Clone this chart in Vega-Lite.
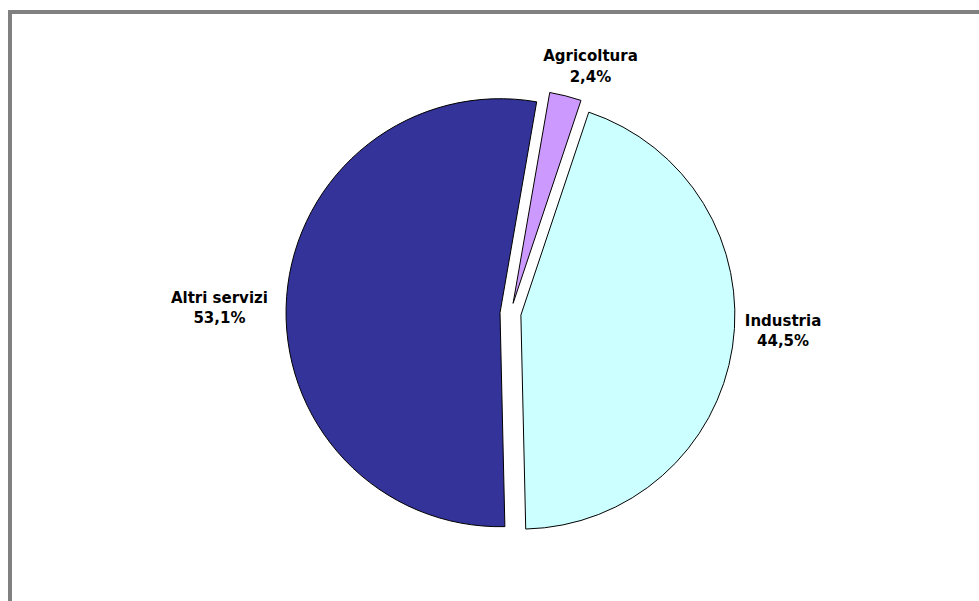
{
  "$schema": "https://vega.github.io/schema/vega-lite/v6.json",
  "width": 1001,
  "height": 603,
  "autosize": {"type": "none"},
  "padding": {"left": 10, "top": 12, "right": -32, "bottom": -14},
  "background": "white",
  "config": {
    "view": {"stroke": "#808080", "strokeWidth": 4},
    "locale": {"number": {"decimal": ",", "thousands": ".", "grouping": [3], "currency": ["€", ""]}},
    "text": {"font": "DejaVu Sans", "fontWeight": "bold", "fontSize": 15, "color": "black", "baseline": "middle", "align": "center"}
  },
  "data": {
    "values": [
      {"cat": "Agricoltura", "share": 0.024},
      {"cat": "Industria", "share": 0.445},
      {"cat": "Altri servizi", "share": 0.531}
    ]
  },
  "transform": [
    {"stack": "share", "groupby": [], "sort": [{"field": "cat", "order": "descending"}], "as": ["start", "end"]}
  ],
  "layer": [
    {
      "mark": {"type": "point", "opacity": 0},
      "encoding": {
        "x": {"field": "share", "type": "quantitative", "axis": null},
        "y": {"field": "share", "type": "quantitative", "axis": null}
      }
    },
    {
      "transform": [{"filter": "datum.cat === 'Industria'"}],
      "mark": {"type": "arc", "radius": 214, "stroke": "black", "strokeWidth": 1, "xOffset": 10.38, "yOffset": 1.59},
      "encoding": {
        "theta": {"field": "start", "type": "quantitative", "scale": {"domain": [0, 1], "range": [0.3229, 6.6061]}},
        "theta2": {"field": "end"},
        "fill": {"field": "cat", "type": "nominal", "legend": null, "scale": {"domain": ["Agricoltura", "Industria", "Altri servizi"], "range": ["#CC99FF", "#CCFFFF", "#333399"]}}
      }
    },
    {
      "transform": [{"filter": "datum.cat === 'Altri servizi'"}],
      "mark": {"type": "arc", "radius": 214, "stroke": "black", "strokeWidth": 1, "xOffset": -10.47, "yOffset": -0.81},
      "encoding": {
        "theta": {"field": "start", "type": "quantitative", "scale": {"domain": [0, 1], "range": [0.3229, 6.6061]}},
        "theta2": {"field": "end"},
        "fill": {"field": "cat", "type": "nominal", "legend": null, "scale": {"domain": ["Agricoltura", "Industria", "Altri servizi"], "range": ["#CC99FF", "#CCFFFF", "#333399"]}}
      }
    },
    {
      "transform": [{"filter": "datum.cat === 'Agricoltura'"}],
      "mark": {"type": "arc", "radius": 214, "stroke": "black", "strokeWidth": 1, "xOffset": 2.59, "yOffset": -10.17},
      "encoding": {
        "theta": {"field": "start", "type": "quantitative", "scale": {"domain": [0, 1], "range": [0.3229, 6.6061]}},
        "theta2": {"field": "end"},
        "fill": {"field": "cat", "type": "nominal", "legend": null, "scale": {"domain": ["Agricoltura", "Industria", "Altri servizi"], "range": ["#CC99FF", "#CCFFFF", "#333399"]}}
      }
    },
    {
      "mark": {"type": "text", "radius": 255, "dx": 17.5, "dy": -10},
      "encoding": {
        "theta": {"field": "share", "type": "quantitative", "stack": true, "scale": {"domain": [0, 1], "range": [0.3229, 6.6061]}},
        "order": {"field": "cat", "sort": "descending"},
        "text": {"condition": {"test": "datum.cat === 'Agricoltura'", "field": "cat", "type": "nominal"}, "value": ""}
      }
    },
    {
      "mark": {"type": "text", "radius": 255, "dx": 17.5, "dy": 10.5},
      "encoding": {
        "theta": {"field": "share", "type": "quantitative", "stack": true, "scale": {"domain": [0, 1], "range": [0.3229, 6.6061]}},
        "order": {"field": "cat", "sort": "descending"},
        "text": {"condition": {"test": "datum.cat === 'Agricoltura'", "field": "share", "type": "quantitative", "format": ".1%"}, "value": ""}
      }
    },
    {
      "mark": {"type": "text", "radius": 290, "dx": -1.9, "dy": 6.2},
      "encoding": {
        "theta": {"field": "share", "type": "quantitative", "stack": true, "scale": {"domain": [0, 1], "range": [0.3229, 6.6061]}},
        "order": {"field": "cat", "sort": "descending"},
        "text": {"condition": {"test": "datum.cat === 'Altri servizi'", "field": "cat", "type": "nominal"}, "value": ""}
      }
    },
    {
      "mark": {"type": "text", "radius": 290, "dx": -1.9, "dy": 25.7},
      "encoding": {
        "theta": {"field": "share", "type": "quantitative", "stack": true, "scale": {"domain": [0, 1], "range": [0.3229, 6.6061]}},
        "order": {"field": "cat", "sort": "descending"},
        "text": {"condition": {"test": "datum.cat === 'Altri servizi'", "field": "share", "type": "quantitative", "format": ".1%"}, "value": ""}
      }
    },
    {
      "mark": {"type": "text", "radius": 270, "dx": 5.6, "dy": -33.3},
      "encoding": {
        "theta": {"field": "share", "type": "quantitative", "stack": true, "scale": {"domain": [0, 1], "range": [0.3229, 6.6061]}},
        "order": {"field": "cat", "sort": "descending"},
        "text": {"condition": {"test": "datum.cat === 'Industria'", "field": "cat", "type": "nominal"}, "value": ""}
      }
    },
    {
      "mark": {"type": "text", "radius": 270, "dx": 5.6, "dy": -13.3},
      "encoding": {
        "theta": {"field": "share", "type": "quantitative", "stack": true, "scale": {"domain": [0, 1], "range": [0.3229, 6.6061]}},
        "order": {"field": "cat", "sort": "descending"},
        "text": {"condition": {"test": "datum.cat === 'Industria'", "field": "share", "type": "quantitative", "format": ".1%"}, "value": ""}
      }
    }
  ]
}
